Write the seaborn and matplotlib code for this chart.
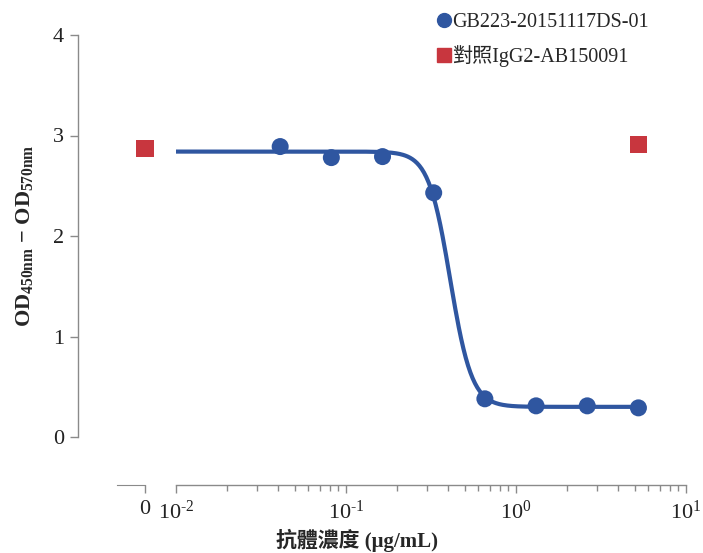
import numpy as np
import pandas as pd
import matplotlib.pyplot as plt
import matplotlib.ticker as mticker
import seaborn as sns

# measured points (concentration in ug/mL, OD450-OD570)
conc = [0.041, 0.082, 0.164, 0.328, 0.656, 1.3125, 2.625, 5.25]
od_sample = [2.89, 2.78, 2.79, 2.43, 0.38, 0.31, 0.31, 0.29]
ctrl_conc = [0.0, 5.25]
od_ctrl = [2.87, 2.91]

# 4PL fit parameters
fit_top, fit_bottom, fit_ec50, fit_hill = 2.84, 0.30, 0.41, 6.8
fit_start, fit_end = 0.01, 5.25

sample_label = "GB223-20151117DS-01"
ctrl_label = "對照IgG2-AB150091"
xlabel = "抗體濃度 (μg/mL)"
ylabel = r"OD$_{\mathbf{450nm}}$ − OD$_{\mathbf{570nm}}$"

BLUE = "#2f56a0"
RED = "#c8363e"
AXIS = "#8a8a8a"

sns.set_style("ticks")
plt.rcParams["font.family"] = ["Liberation Serif", "Noto Sans CJK TC"]
plt.rcParams["mathtext.fontset"] = "custom"
plt.rcParams["mathtext.rm"] = "Liberation Serif"
plt.rcParams["mathtext.bf"] = "Liberation Serif:bold"
plt.rcParams["mathtext.it"] = "Liberation Serif:italic"

W, H = 703, 553
fig = plt.figure(figsize=(W / 100, H / 100), dpi=100)

y0, y4 = 437, 35
bottom = (H - y0) / H
height = (y0 - y4) / H
ax = fig.add_axes([176 / W, bottom, (686 - 176) / W, height])
axz = fig.add_axes([117 / W, bottom, (160 - 117) / W, height])

# fitted curve
xs = np.logspace(np.log10(fit_start), np.log10(fit_end), 400)
ys = fit_bottom + (fit_top - fit_bottom) / (1 + (xs / fit_ec50) ** fit_hill)
curve = pd.DataFrame({"x": xs, "y": ys})
sns.lineplot(data=curve, x="x", y="y", ax=ax, color=BLUE, lw=3, zorder=3)

pts = pd.DataFrame({"conc": conc, "od": od_sample})
sns.scatterplot(data=pts, x="conc", y="od", ax=ax, color=BLUE, s=150,
                edgecolor="none", zorder=4, clip_on=False)
ctrl = pd.DataFrame({"conc": ctrl_conc, "od": od_ctrl})
sns.scatterplot(data=ctrl[ctrl.conc > 0], x="conc", y="od", ax=ax, color=RED,
                marker="s", s=150, edgecolor="none", zorder=5, clip_on=False)
sns.scatterplot(data=ctrl[ctrl.conc == 0], x="conc", y="od", ax=axz, color=RED,
                marker="s", s=150, edgecolor="none", zorder=5, clip_on=False)

ax.set_xscale("log")
ax.set_xlim(0.01, 10)
ax.set_ylim(0, 4)
ax.set_yticks([0, 1, 2, 3, 4])
ax.xaxis.set_major_formatter(mticker.FuncFormatter(
    lambda v, p: r"$10^{\text{%d}}$" % round(np.log10(v))))
ax.set_xlabel("")
ax.set_ylabel(ylabel, fontsize=16, fontweight="bold", labelpad=13)

off = (485 - y0) * 0.72
for s in ["top", "right"]:
    ax.spines[s].set_visible(False)
ax.spines["bottom"].set_position(("outward", off))
ax.spines["left"].set_position(("outward", (176 - 78) * 0.72))
ax.spines["bottom"].set_bounds(0.01, 10)
for s in ["bottom", "left"]:
    ax.spines[s].set_color(AXIS)
    ax.spines[s].set_linewidth(1)
ax.tick_params(axis="both", which="major", color=AXIS, length=6, width=1,
               labelsize=16, labelcolor="#222222")
ax.tick_params(axis="x", which="minor", color=AXIS, length=4, width=1)
ax.tick_params(axis="x", which="major", pad=5)
ax.tick_params(axis="y", pad=4)

axz.set_xlim(-28, 15)
axz.set_ylim(0, 4)
axz.set_xticks([0])
axz.set_xticklabels(["0"])
axz.set_yticks([])
axz.set_xlabel("")
axz.set_ylabel("")
axz.patch.set_visible(False)
for s in ["top", "right", "left"]:
    axz.spines[s].set_visible(False)
axz.spines["bottom"].set_position(("outward", off))
axz.spines["bottom"].set_bounds(-28, 0)
axz.spines["bottom"].set_color(AXIS)
axz.tick_params(axis="x", color=AXIS, length=6, width=1, labelsize=16,
                labelcolor="#222222", pad=5)

fig.text(357 / W, 1 - 540 / H, xlabel, ha="center", va="center",
         fontsize=15, fontweight="bold")

h_blue = plt.Line2D([], [], ls="none", marker="o", color=BLUE, markersize=10)
h_red = plt.Line2D([], [], ls="none", marker="s", color=RED, markersize=10)
fig.legend([h_blue, h_red], [sample_label, ctrl_label], loc="upper left",
           bbox_to_anchor=(428 / W, 1 - 5 / H), frameon=False, fontsize=14.5,
           handlelength=0.8, handletextpad=0.0, labelspacing=0.65,
           borderaxespad=0)

fig.savefig("out.png", dpi=100)
